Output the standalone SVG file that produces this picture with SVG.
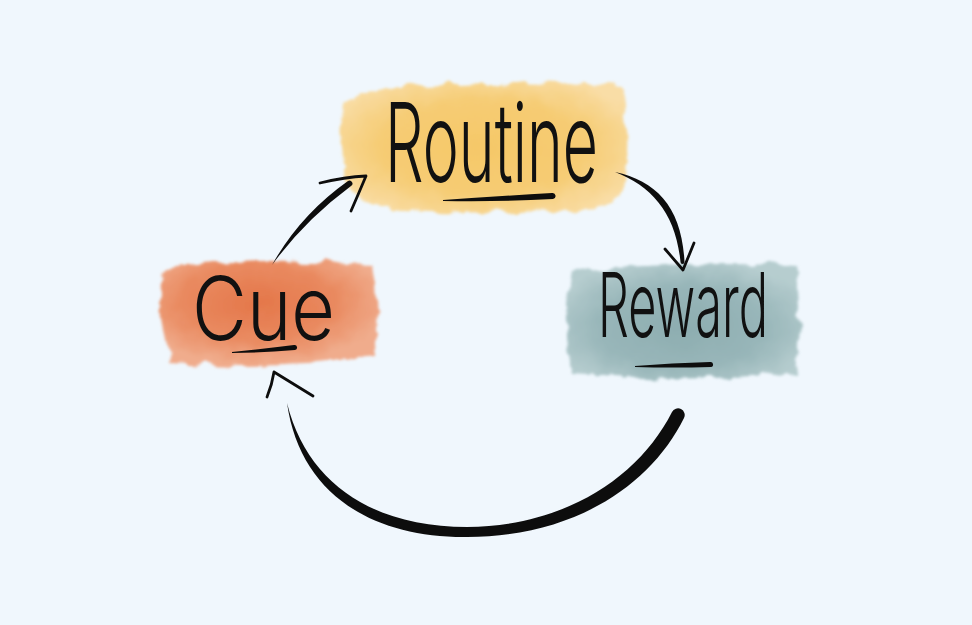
<svg xmlns="http://www.w3.org/2000/svg" width="972" height="625" viewBox="0 0 972 625">
  <style>
    .label { font-family: Inter, Lato, "Liberation Sans", sans-serif; font-weight: 300; fill: #111; }
    .ink { fill: #0d0d0d; }
    .stroke { fill: none; stroke: #0d0d0d; stroke-linecap: round; stroke-linejoin: round; }
  </style>
  <defs>
    <filter id="rough" x="-10%" y="-15%" width="120%" height="130%">
      <feTurbulence type="fractalNoise" baseFrequency="0.05" numOctaves="3" seed="4" result="noise"/>
      <feDisplacementMap in="SourceGraphic" in2="noise" scale="14" xChannelSelector="R" yChannelSelector="G" result="disp"/>
      <feGaussianBlur in="disp" stdDeviation="1.6"/>
    </filter>
    <radialGradient id="gYellow" cx="50%" cy="50%" r="60%">
      <stop offset="0" stop-color="#F5C868"/>
      <stop offset="0.6" stop-color="#F6CC74"/>
      <stop offset="1" stop-color="#F9DDA6"/>
    </radialGradient>
    <radialGradient id="gOrange" cx="45%" cy="40%" r="60%">
      <stop offset="0" stop-color="#E4774A"/>
      <stop offset="0.6" stop-color="#E98A60"/>
      <stop offset="1" stop-color="#F0AC8C"/>
    </radialGradient>
    <radialGradient id="gTeal" cx="50%" cy="55%" r="60%">
      <stop offset="0" stop-color="#8DADB0"/>
      <stop offset="0.6" stop-color="#98B6B9"/>
      <stop offset="1" stop-color="#B6CDCF"/>
    </radialGradient>
  </defs>

  <rect width="972" height="625" fill="#F0F7FD"/>

  <g id="node-routine">
    <path d="M 345 100 Q 380 84 460 84 Q 540 80 622 86 Q 630 130 626 170 Q 622 205 600 208 Q 500 214 400 210 Q 350 206 345 175 Q 336 130 345 100 Z" fill="url(#gYellow)" filter="url(#rough)"/>
    <text class="label" x="385" y="182" font-size="110" textLength="213" lengthAdjust="spacingAndGlyphs">Routine</text>
    <path class="ink" d="M 443 200 Q 500 196 552 193 A 3 3 0 0 1 553 199 Q 500 202 443 201 Z"/>
  </g>

  <g id="node-cue">
    <path d="M 164 268 Q 260 258 372 264 Q 380 310 374 356 Q 270 370 172 362 Q 156 320 164 268 Z" fill="url(#gOrange)" filter="url(#rough)"/>
    <text class="label" x="192" y="340" font-size="88" textLength="143" lengthAdjust="spacingAndGlyphs">Cue</text>
    <path class="ink" d="M 232 352 Q 262 349 294 345 A 2.5 2.5 0 0 1 295 350 Q 262 353 232 353 Z"/>
  </g>

  <g id="node-reward">
    <path d="M 570 272 Q 680 260 794 266 Q 802 320 796 372 Q 690 384 574 374 Q 560 320 570 272 Z" fill="url(#gTeal)" filter="url(#rough)"/>
    <text class="label" x="598" y="337" font-size="90" textLength="170" lengthAdjust="spacingAndGlyphs">Reward</text>
    <path class="ink" d="M 635 366 Q 672 363 710 362 A 2.5 2.5 0 0 1 711 367 Q 672 368 635 367 Z"/>
  </g>

  <g id="connectors">
    <!-- Cue to Routine -->
    <path class="ink" d="M 272 265 Q 300 215 348 181 A 2.5 2.5 0 0 1 351 186 Q 305 220 272 265 Z"/>
    <path class="stroke" stroke-width="2.8" d="M 320 183 Q 345 177 366 176 Q 358 195 351 211"/>
    <!-- Routine to Reward -->
    <path class="ink" d="M 615 172 C 657 181 682 208 684.5 262 A 2 2 0 0 1 680.5 262 C 676 214 652 186 615 172 Z"/>
    <path class="stroke" stroke-width="2.8" d="M 665 249 L 683 270 L 694 243"/>
    <!-- Reward to Cue -->
    <path class="ink" d="M 684 418 C 651 485 574 537 467 537 C 372 538 300 494 287 403 C 308 487 377 527 467 527 C 566 526 639 477 672 412 A 6.7 6.7 0 0 1 684 418 Z"/>
    <path class="stroke" stroke-width="2.8" d="M 267 397 Q 272 385 274 372 L 313 396"/>
  </g>
</svg>
